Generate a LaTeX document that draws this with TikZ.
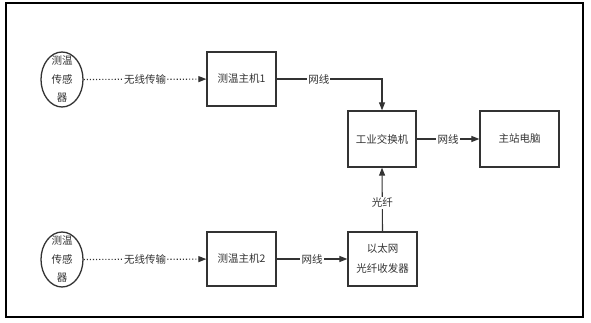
\documentclass[tikz,border=0pt]{standalone}
\usepackage{fontspec}
\setmainfont{Noto Sans CJK SC}
\usetikzlibrary{shapes.geometric,arrows.meta}
\definecolor{txt}{HTML}{333333}
\definecolor{edge}{HTML}{333333}
\begin{document}
\begin{tikzpicture}[x=1pt,y=-1pt,
  font=\fontsize{10.5}{18.5}\selectfont,
  text=txt,
  box/.style={draw=edge, line width=1.3pt, minimum width=#1, minimum height=54pt, inner sep=0pt, align=center},
  sensor/.style={draw=edge, line width=1.3pt, ellipse, minimum width=42pt, minimum height=55pt, inner sep=0pt},
  lbl/.style={fill=white, inner sep=1.2pt, font=\fontsize{10.5}{12}\selectfont},
  link/.style={draw=edge, line width=1.1pt, -{Triangle[length=8pt,width=6pt]}},
  wlink/.style={link, dotted, line width=1.2pt}
]
\useasboundingbox (0,0) rectangle (591,323);
\draw[line width=1.2pt, black] (6,3) rectangle (583,317);

% upper row
\node[sensor] (s1) at (62,79.5) {};
\node[align=center, inner sep=0pt] (s1t) at (s1.center) {测温\\传感\\器};
\node[box=69pt] (h1) at (241.5,79) {测温主机1};
\node[box=68pt, minimum height=56pt] (sw) at (382,139) {工业交换机};
\node[box=79pt, minimum height=56pt] (pc) at (519.5,139) {主站电脑};

% lower row
\node[sensor] (s2) at (62,259.5) {};
\node[align=center, inner sep=0pt] (s2t) at (s2.center) {测温\\传感\\器};
\node[box=69pt] (h2) at (241.5,259) {测温主机2};
\node[box=69pt, font=\fontsize{10.5}{20}\selectfont] (tr) at (382.5,259) {以太网\\光纤收发器};

% connectors
\draw[wlink] (s1) -- node[lbl]{无线传输} (h1);
\draw[wlink] (s2) -- node[lbl]{无线传输} (h2);
\draw[link] (h1.east) -| node[lbl, pos=0.2]{网线} (sw.north);
\draw[link] (sw) -- node[lbl]{网线} (pc);
\draw[link] (h2) -- node[lbl]{网线} (tr);
\draw[link] (tr.north) -- node[lbl, pos=0.45]{光纤} (sw.south);
\end{tikzpicture}
\end{document}
